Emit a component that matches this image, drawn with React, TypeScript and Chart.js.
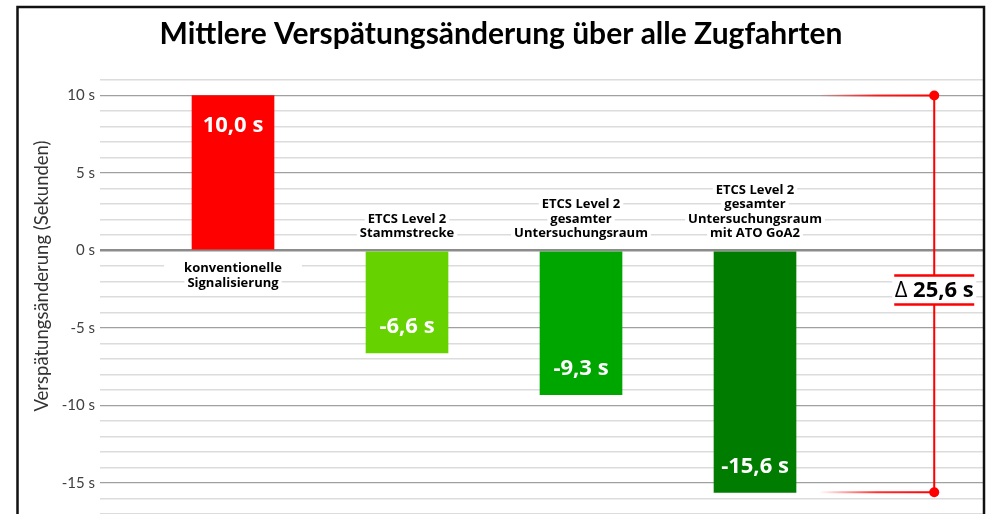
import React, { useEffect, useRef } from 'react';
import { Chart, registerables } from 'chart.js';

Chart.register(...registerables);

// ---- data ----
const titleText = 'Mittlere Verspätungsänderung über alle Zugfahrten';
const yAxisTitle = 'Verspätungsänderung (Sekunden)';
const categories: string[][] = [
  ['konventionelle', 'Signalisierung'],
  ['ETCS Level 2', 'Stammstrecke'],
  ['ETCS Level 2', 'gesamter', 'Untersuchungsraum'],
  ['ETCS Level 2', 'gesamter', 'Untersuchungsraum', 'mit ATO GoA2'],
];
const values = [10.0, -6.6, -9.3, -15.6];
const barColors = ['#FF0000', '#66D200', '#00A600', '#007D00'];
const yMin = -17;
const yMax = 11;
const majorStep = 5;
const deltaSlot = 4.03; // x position (in category units) of the delta annotation

const fmt = (v: number) => v.toFixed(1).replace('.', ',') + ' s';

const overlay = {
  id: 'overlay',
  afterDraw(chart: any) {
    const { ctx, scales } = chart;
    const xs = scales.x;
    const ys = scales.y;
    ctx.save();

    // title
    ctx.fillStyle = '#000';
    ctx.font = 'bold 30px Lato';
    ctx.textAlign = 'center';
    ctx.textBaseline = 'middle';
    ctx.fillText(titleText, 501, 34);

    // y axis title
    ctx.save();
    ctx.translate(42, 276);
    ctx.rotate(-Math.PI / 2);
    ctx.font = '18.5px Lato';
    ctx.fillStyle = '#333';
    ctx.fillText(yAxisTitle, 0, 0);
    ctx.restore();

    const zero = ys.getPixelForValue(0);
    const meta = chart.getDatasetMeta(0);
    meta.data.forEach((bar: any, i: number) => {
      const v = values[i];
      const bx = bar.x;
      // value label inside the bar
      ctx.font = 'bold 22px "Open Sans"';
      ctx.fillStyle = '#fff';
      ctx.textAlign = 'center';
      ctx.textBaseline = 'middle';
      ctx.fillText(fmt(v), bx, v >= 0 ? bar.y + 30 : bar.y - 26);

      // category label
      const lines = categories[i];
      ctx.font = 'bold 13px "Open Sans"';
      const lh = 14.5;
      const firstY = v >= 0 ? zero + 18 : zero - 17 - (lines.length - 1) * lh;
      lines.forEach((t, j) => {
        const ty = firstY + j * lh;
        const w = ctx.measureText(t).width;
        const pad = v >= 0 && j === 0 ? 20 : 3;
        ctx.fillStyle = '#fff';
        ctx.fillRect(bx - w / 2 - pad, ty - 7, w + pad * 2, 14);
      });
      ctx.fillStyle = '#000';
      lines.forEach((t, j) => {
        ctx.fillText(t, bx, firstY + j * lh);
      });
    });

    // delta annotation
    const vTop = values[0];
    const vBot = Math.min(...values);
    const dx = xs.getPixelForValue(deltaSlot);
    const top = ys.getPixelForValue(vTop);
    const bot = ys.getPixelForValue(vBot);
    const mid = (top + bot) / 2 - 4;
    const red = '#FF0000';

    // fading horizontal lines
    [top, bot].forEach((yy) => {
      const g = ctx.createLinearGradient(dx - 115, 0, dx, 0);
      g.addColorStop(0, 'rgba(255,0,0,0)');
      g.addColorStop(0.5, 'rgba(255,0,0,0.8)');
      g.addColorStop(1, red);
      ctx.strokeStyle = g;
      ctx.lineWidth = 2;
      ctx.beginPath();
      ctx.moveTo(dx - 115, yy);
      ctx.lineTo(dx, yy);
      ctx.stroke();
    });

    ctx.strokeStyle = red;
    ctx.lineWidth = 2;
    ctx.beginPath();
    ctx.moveTo(dx, top);
    ctx.lineTo(dx, mid - 14.5);
    ctx.moveTo(dx, mid + 14.5);
    ctx.lineTo(dx, bot);
    ctx.stroke();

    ctx.fillStyle = '#fff';
    ctx.fillRect(dx - 42, mid - 13, 84, 26);

    ctx.lineWidth = 2.5;
    ctx.beginPath();
    ctx.moveTo(dx - 40, mid - 14.5);
    ctx.lineTo(dx + 40, mid - 14.5);
    ctx.moveTo(dx - 40, mid + 14.5);
    ctx.lineTo(dx + 40, mid + 14.5);
    ctx.stroke();

    ctx.fillStyle = red;
    [top, bot].forEach((yy) => {
      ctx.beginPath();
      ctx.arc(dx, yy, 5, 0, Math.PI * 2);
      ctx.fill();
    });

    const d1 = 'Δ';
    const d2 = ' ' + fmt(vTop - vBot);
    ctx.font = '22px "Open Sans"';
    const w1 = ctx.measureText(d1).width;
    ctx.font = 'bold 22px "Open Sans"';
    const w2 = ctx.measureText(d2).width;
    const startX = dx - (w1 + w2) / 2;
    ctx.textAlign = 'left';
    ctx.fillStyle = '#000';
    ctx.font = '22px "Open Sans"';
    ctx.fillText(d1, startX, mid + 1);
    ctx.font = 'bold 22px "Open Sans"';
    ctx.fillText(d2, startX + w1, mid + 1);

    // frame
    ctx.strokeStyle = '#111';
    ctx.lineWidth = 2.5;
    ctx.beginPath();
    ctx.moveTo(17.5, 520);
    ctx.lineTo(17.5, 7);
    ctx.lineTo(984, 7);
    ctx.lineTo(984, 520);
    ctx.stroke();

    ctx.restore();
  },
};

export default function App() {
  const ref = useRef<HTMLCanvasElement>(null);

  useEffect(() => {
    document.body.style.margin = '0';
    document.body.style.overflow = 'hidden';
    const canvas = ref.current;
    if (!canvas) return;
    const chart = new Chart(canvas, {
      type: 'bar',
      data: {
        datasets: [
          {
            data: values.map((v, i) => ({ x: i, y: v })),
            backgroundColor: barColors,
            borderWidth: 0,
            barThickness: 82,
          } as any,
        ],
      },
      options: {
        animation: false,
        responsive: false,
        maintainAspectRatio: false,
        devicePixelRatio: 1,
        layout: { padding: { top: 80, left: 0, right: 8, bottom: 0 } },
        plugins: {
          legend: { display: false },
          tooltip: { enabled: false },
          title: { display: false },
        },
        scales: {
          x: {
            type: 'linear',
            min: -0.7644,
            max: 4.3103,
            offset: false,
            display: false,
          },
          y: {
            min: yMin,
            max: yMax,
            afterFit: (s: any) => {
              s.width = 100;
              s.paddingTop = 0;
              s.paddingBottom = 0;
            },
            border: { display: false },
            grid: {
              drawTicks: false,
              color: (c: any) => {
                const v = c.tick ? c.tick.value : 1;
                if (v === 0) return '#8c8c8c';
                if (v % majorStep === 0) return '#a0a0a0';
                return '#dcdcdc';
              },
              lineWidth: (c: any) => {
                const v = c.tick ? c.tick.value : 1;
                if (v === 0) return 2.5;
                if (v % majorStep === 0) return 1.2;
                return 1.6;
              },
            },
            ticks: {
              stepSize: 1,
              autoSkip: false,
              padding: 5,
              color: '#404040',
              font: { family: 'Lato', size: 15 },
              callback: (v: any) => (Number(v) % majorStep === 0 ? `${v} s` : ''),
            },
          },
        },
      },
      plugins: [overlay],
    } as any);
    return () => chart.destroy();
  }, []);

  return (
    <div style={{ position: 'fixed', left: 0, top: 0, width: 991, height: 514, background: '#fff' }}>
      <canvas ref={ref} width={991} height={514} />
    </div>
  );
}
